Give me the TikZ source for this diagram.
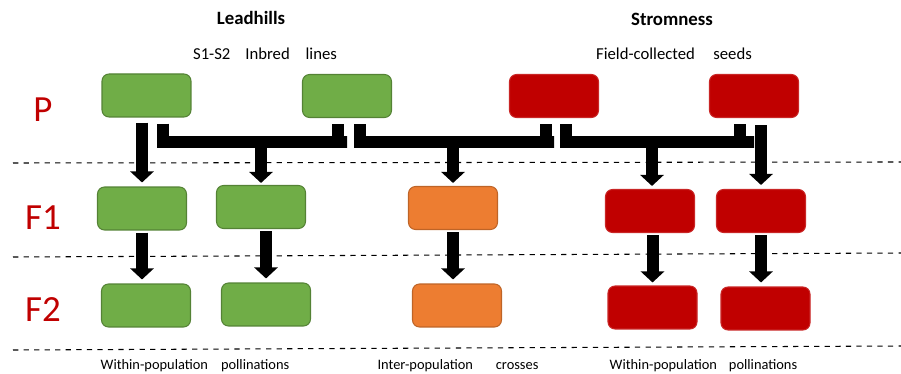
\documentclass[tikz,border=0pt]{standalone}
\usepackage{fontspec}
\setmainfont{Carlito}
\usetikzlibrary{arrows.meta,calc}
\definecolor{leafgreen}{HTML}{70AD47}
\definecolor{crossorange}{HTML}{ED7D31}
\definecolor{seedred}{HTML}{C00000}
\begin{document}
\begin{tikzpicture}[x=0.02cm,y=-0.02cm,
    cell/.style={rounded corners=0.14cm,minimum width=1.78cm,minimum height=0.86cm,line width=0.6pt},
    greencell/.style={cell,fill=leafgreen,draw=leafgreen!75!black},
    orangecell/.style={cell,fill=crossorange,draw=crossorange!80!black},
    redcell/.style={cell,fill=seedred,draw=seedred!85!white},
    bar/.style={line width=0.24cm},
    arr/.style={bar,-{Triangle[width=0.46cm,length=0.22cm]}},
    sep/.style={dashed,line width=0.6pt},
    gen/.style={text=seedred,font=\fontsize{21}{21}\selectfont},
    head/.style={font=\bfseries\fontsize{10.7}{12}\selectfont},
    note/.style={font=\fontsize{9.5}{11}\selectfont},
    foot/.style={font=\fontsize{8.2}{10}\selectfont}]
    \useasboundingbox (0,0) rectangle (901,374);
    % generation labels
    \node[gen] (genp)  at (43,110) {P};
    \node[gen] (genf1) at (43,218) {F1};
    \node[gen] (genf2) at (43,310) {F2};
    % titles
    \node[head] (lead)  at (251,18) {Leadhills};
    \node[head] (strom) at (672,19) {Stromness};
    \node[note,anchor=base] (inbred) at (265,60) {S1-S2\hspace{8.5pt}Inbred\hspace{9pt}lines};
    \node[note,anchor=base] (field)  at (674,60) {Field-collected\hspace{10.5pt}seeds};
    \node[foot,anchor=base] (withinl) at (195,369) {Within-population\hspace{7.4pt}pollinations};
    \node[foot,anchor=base] (inter)   at (458,369) {Inter-population\hspace{13pt}crosses};
    \node[foot,anchor=base] (withinr) at (703.5,369) {Within-population\hspace{6.8pt}pollinations};
    % separators
    \draw[sep] (13,163) -- (901,162);
    \draw[sep] (13,257) -- (901,253);
    \draw[sep] (13,350) -- (901,346);
    % P
    \node[greencell] (pg1) at (146.5,95.5) {};
    \node[greencell] (pg2) at (347,96) {};
    \node[redcell]   (pr1) at (554,96) {};
    \node[redcell]   (pr2) at (754,96) {};
    % F1
    \node[greencell]  (f1g1) at (142,208.5) {};
    \node[greencell]  (f1g2) at (261,207) {};
    \node[orangecell] (f1o)  at (453,208) {};
    \node[redcell]    (f1r1) at (650,211) {};
    \node[redcell]    (f1r2) at (761,211) {};
    % F2
    \node[greencell]  (f2g1) at (146,305.5) {};
    \node[greencell]  (f2g2) at (266,304.5) {};
    \node[orangecell] (f2o)  at (457,305.5) {};
    \node[redcell]    (f2r1) at (652.5,307.5) {};
    \node[redcell]    (f2r2) at (765.5,308.5) {};
    % crossing brackets
    \coordinate (crossy) at (0,142.5);
    \draw[bar] ($(pg1.south)+(16.5,6)$) |- (crossy -| pg2) -| ($(pg2.south)+(-9.5,6)$);
    \draw[bar] ($(pg2.south)+(13,6)$) |- (crossy -| pr1) -| ($(pr1.south)+(-8,6)$);
    \draw[bar] ($(pr1.south)+(11.5,6)$) |- (crossy -| pr2) -| ($(pr2.south)+(-14.5,6)$);
    \draw[arr,shorten >=0.04cm] (crossy -| f1g2.north) -- (f1g2.north);
    \draw[arr,shorten >=0.06cm] (crossy -| f1o.north) -- (f1o.north);
    \draw[arr,shorten >=0.06cm] ([xshift=0.04cm]crossy -| f1r1.north) -- ([xshift=0.04cm]f1r1.north);
    % selfing lines
    \draw[arr,shorten <=0.1cm,shorten >=0.08cm] (pg1.south -| f1g1.north) -- (f1g1.north);
    \draw[arr,shorten <=0.14cm,shorten >=0.08cm] (pr2.south -| f1r2.north) -- (f1r2.north);
    \draw[arr,shorten <=0.04cm,shorten >=0.08cm] (f1g1.south) -- (f1g1.south |- f2g1.north);
    \draw[arr,shorten <=0.04cm,shorten >=0.08cm] (f1g2.south -| f2g2.north) -- (f2g2.north);
    \draw[arr,shorten <=0.04cm,shorten >=0.08cm] (f1o.south) -- (f1o.south |- f2o.north);
    \draw[arr,shorten <=0.04cm,shorten >=0.06cm] (f1r1.south -| f2r1.north) -- (f2r1.north);
    \draw[arr,shorten <=0.04cm,shorten >=0.08cm] (f1r2.south) -- (f1r2.south |- f2r2.north);
\end{tikzpicture}
\end{document}
